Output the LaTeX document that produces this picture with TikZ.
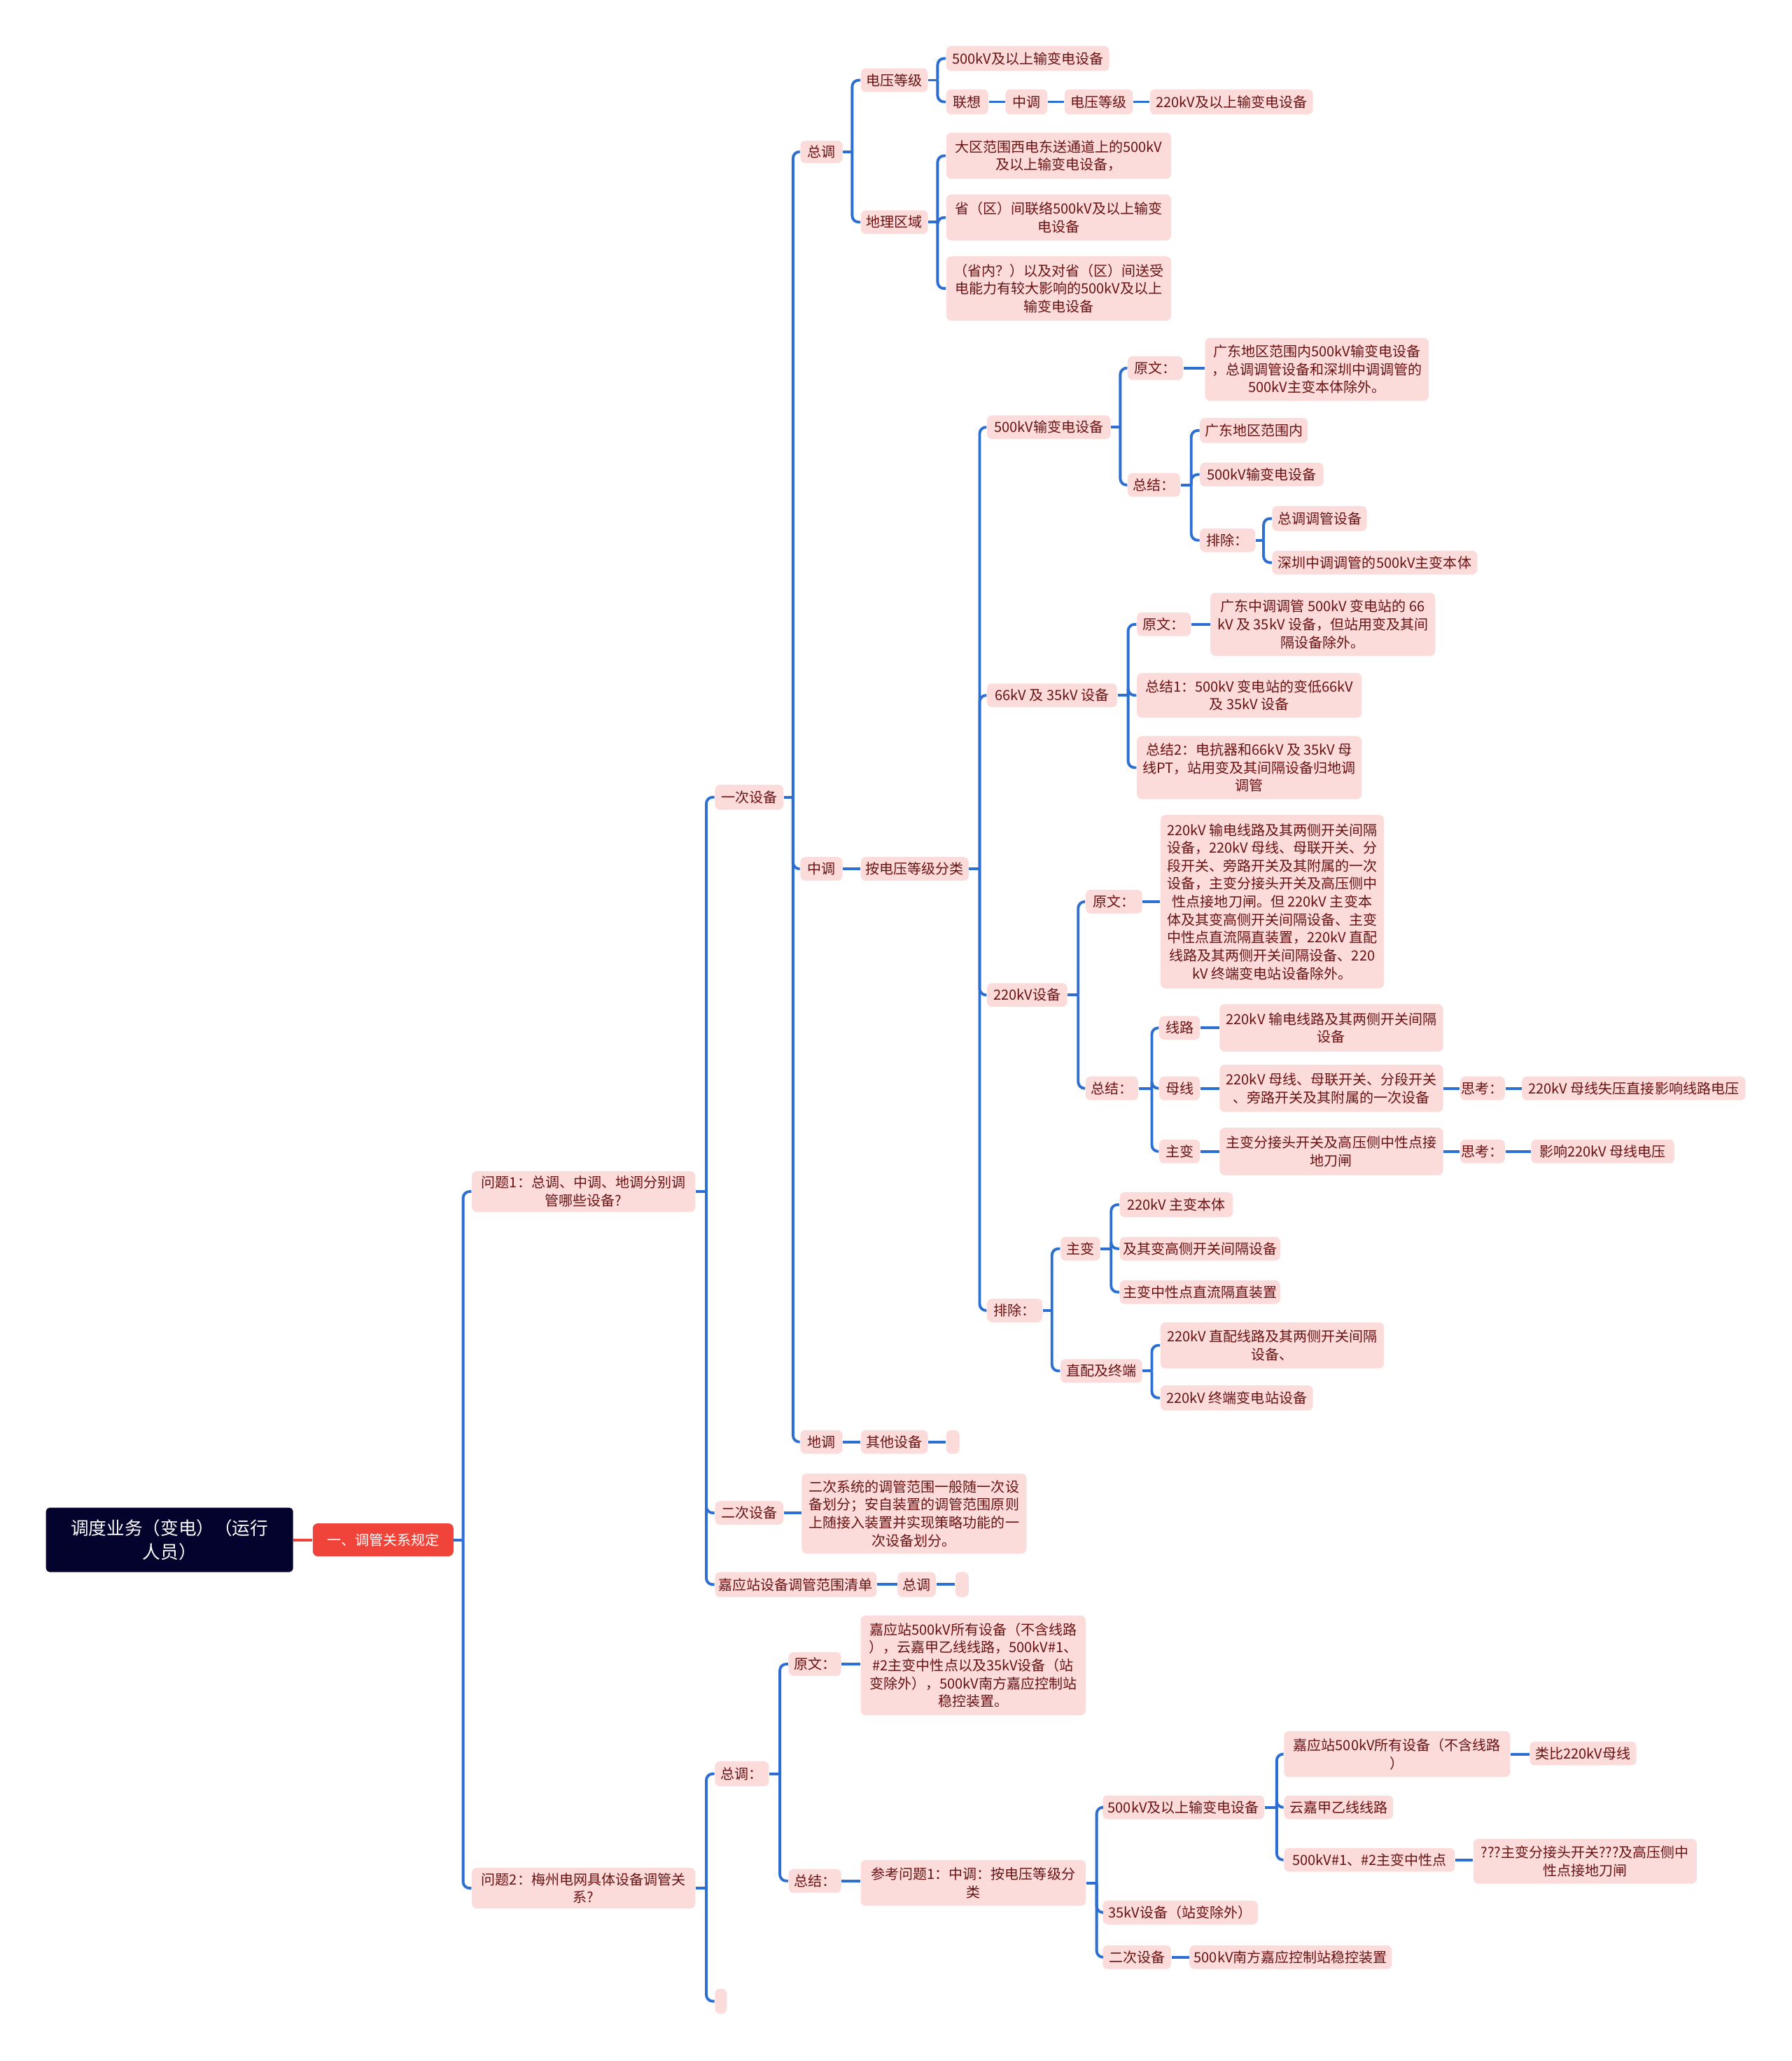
\documentclass[tikz,border=0pt]{standalone}
\usepackage{fontspec}
\setmainfont{Noto Sans CJK SC}
\definecolor{lnblue}{RGB}{44,110,210}
\definecolor{pk}{RGB}{252,219,219}
\definecolor{tx}{RGB}{105,18,18}
\definecolor{rootbg}{RGB}{4,3,46}
\definecolor{redbg}{RGB}{240,67,58}
\newcommand\bx[7][]{\pgfmathsetmacro\bw{(#5-#3)*0.018782}\pgfmathsetmacro\bh{(#6-#4)*0.018782}%
  \node[bx,#1,minimum width=\bw cm,minimum height=\bh cm] (#2) at ({(#3+#5)/2},{(#4+#6)/2}) {#7};}
\newcommand\lk[3]{\draw[ln] (#1.east) -- ++(#3,0); \draw[ln,rounded corners=2.6pt] (#1.east) ++(#3,0) |- (#2.west);}
\newcommand\st[2]{\draw[ln] (#1.east) -- (#1.east -| #2.west);}
\begin{document}
\begin{tikzpicture}[x=0.018782cm,y=-0.018782cm,
  bx/.style={fill=pk, rounded corners=2pt, inner sep=0pt, align=center, text=tx, font=\fontsize{5.7}{7.3}\selectfont},
  rootst/.style={fill=rootbg, text=white, font=\fontsize{7.3}{9.6}\selectfont, rounded corners=1.5pt},
  redst/.style={fill=redbg, text=white},
  ln/.style={draw=lnblue, line width=1.1pt}]
\path[use as bounding box, fill=white] (0,0) rectangle (1363,1568);

% boxes
\bx[rootst]{root}{35}{1147}{223}{1196}{调度业务（变电）（运行\\人员）}
\bx[redst]{l1}{238}{1159}{345}{1184}{一、调管关系规定}
\bx{q1}{359}{891}{529}{922}{问题1：总调、中调、地调分别调\\管哪些设备?}
\bx{q2}{359}{1421}{529}{1452}{问题2：梅州电网具体设备调管关\\系?}

\bx{yc}{544}{597}{596}{616}{一次设备}
\bx{ec}{544}{1142}{596}{1160}{二次设备}
\bx{ect}{610}{1121}{781}{1182}{二次系统的调管范围一般随一次设\\备划分；安自装置的调管范围原则\\上随接入装置并实现策略功能的一\\次设备划分。}
\bx{jy}{544}{1196}{667}{1215}{嘉应站设备调管范围清单}
\bx{jyzd}{683}{1196}{712}{1215}{总调}
\bx{jye}{727}{1196}{737}{1215}{}

\bx{zd}{609}{107}{641}{124}{总调}
\bx{zddy}{655}{52}{706}{70}{电压等级}
\bx{zd500}{720}{35}{844}{54}{500kV及以上输变电设备}
\bx{lx}{720}{68}{752}{87}{联想}
\bx{lxzt}{765}{68}{797}{87}{中调}
\bx{lxdy}{810}{68}{862}{87}{电压等级}
\bx{lx220}{875}{68}{999}{87}{220kV及以上输变电设备}
\bx{dl}{655}{160}{706}{178}{地理区域}
\bx{dla}{720}{101}{891}{136}{大区范围西电东送通道上的500kV\\及以上输变电设备，}
\bx{dlb}{720}{148}{891}{183}{省（区）间联络500kV及以上输变\\电设备}
\bx{dlc}{720}{195}{891}{244}{（省内？）以及对省（区）间送受\\电能力有较大影响的500kV及以上\\输变电设备}

\bx{zt}{609}{652}{641}{670}{中调}
\bx{fl}{655}{652}{737}{670}{按电压等级分类}

\bx{kf}{751}{316}{845}{334}{500kV输变电设备}
\bx{kfyw}{858}{271}{900}{289}{原文：}
\bx{kfywt}{917}{257}{1087}{305}{广东地区范围内500kV输变电设备\\，总调调管设备和深圳中调调管的\\500kV主变本体除外。}
\bx{kfzj}{858}{360}{898}{378}{总结：}
\bx{kfa}{913}{318}{995}{337}{广东地区范围内}
\bx{kfb}{913}{352}{1007}{370}{500kV输变电设备}
\bx{kfpc}{913}{402}{955}{420}{排除：}
\bx{kfpa}{968}{385}{1040}{404}{总调调管设备}
\bx{kfpb}{968}{419}{1124}{437}{深圳中调调管的500kV主变本体}

\bx{ks}{751}{520}{850}{538}{66kV 及 35kV 设备}
\bx{ksyw}{865}{466}{906}{484}{原文：}
\bx{ksywt}{921}{451}{1092}{499}{广东中调调管 500kV 变电站的 66\\kV 及 35kV 设备，但站用变及其间\\隔设备除外。}
\bx{ksza}{865}{512}{1036}{546}{总结1：500kV 变电站的变低66kV\\及 35kV 设备}
\bx{kszb}{865}{560}{1036}{608}{总结2：电抗器和66kV 及 35kV 母\\线PT，站用变及其间隔设备归地调\\调管}

\bx{kt}{751}{748}{812}{766}{220kV设备}
\bx{ktyw}{826}{677}{869}{695}{原文：}
\bx{ktywt}{883}{620}{1053}{752}{220kV 输电线路及其两侧开关间隔\\设备，220kV 母线、母联开关、分\\段开关、旁路开关及其附属的一次\\设备，主变分接头开关及高压侧中\\性点接地刀闸。但 220kV 主变本\\体及其变高侧开关间隔设备、主变\\中性点直流隔直装置，220kV 直配\\线路及其两侧开关间隔设备、220\\kV 终端变电站设备除外。}
\bx{ktzj}{826}{819}{866}{837}{总结：}
\bx{ktxl}{882}{773}{913}{791}{线路}
\bx{ktxlt}{928}{764}{1098}{800}{220kV 输电线路及其两侧开关间隔\\设备}
\bx{ktmx}{882}{819}{913}{837}{母线}
\bx{ktmxt}{928}{810}{1098}{846}{220kV 母线、母联开关、分段开关\\、旁路开关及其附属的一次设备}
\bx{ktmxs}{1111}{819}{1145}{837}{思考：}
\bx{ktmxst}{1158}{819}{1328}{837}{220kV 母线失压直接影响线路电压}
\bx{ktzb}{882}{867}{913}{885}{主变}
\bx{ktzbt}{928}{858}{1098}{894}{主变分接头开关及高压侧中性点接\\地刀闸}
\bx{ktzbs}{1111}{867}{1145}{885}{思考：}
\bx{ktzbst}{1165}{867}{1274}{885}{影响220kV 母线电压}

\bx{pc}{751}{988}{793}{1006}{排除：}
\bx{pczb}{807}{941}{837}{959}{主变}
\bx{pcza}{852}{907}{938}{926}{220kV 主变本体}
\bx{pczbb}{852}{941}{974}{959}{及其变高侧开关间隔设备}
\bx{pczc}{852}{974}{974}{992}{主变中性点直流隔直装置}
\bx{pczp}{807}{1034}{869}{1052}{直配及终端}
\bx{pczpa}{883}{1006}{1053}{1041}{220kV 直配线路及其两侧开关间隔\\设备、}
\bx{pczpb}{883}{1054}{999}{1073}{220kV 终端变电站设备}

\bx{dd}{609}{1088}{641}{1106}{地调}
\bx{ddqt}{655}{1088}{706}{1106}{其他设备}
\bx{dde}{720}{1088}{730}{1106}{}

\bx{qzd}{544}{1340}{585}{1359}{总调：}
\bx{qyw}{600}{1257}{640}{1275}{原文：}
\bx{qywt}{655}{1229}{826}{1305}{嘉应站500kV所有设备（不含线路\\），云嘉甲乙线线路，500kV\#1、\\\#2主变中性点以及35kV设备（站\\变除外），500kV南方嘉应控制站\\稳控装置。}
\bx{qzj}{600}{1422}{640}{1440}{总结：}
\bx{qzjt}{655}{1415}{826}{1450}{参考问题1：中调：按电压等级分\\类}
\bx{qf}{839}{1366}{962}{1384}{500kV及以上输变电设备}
\bx{qfa}{977}{1317}{1149}{1352}{嘉应站500kV所有设备（不含线路\\）}
\bx{qfab}{1164}{1325}{1245}{1343}{类比220kV母线}
\bx{qfb}{977}{1366}{1060}{1384}{云嘉甲乙线线路}
\bx{qfc}{977}{1406}{1107}{1424}{500kV\#1、\#2主变中性点}
\bx{qfct}{1121}{1399}{1291}{1433}{???主变分接头开关???及高压侧中\\性点接地刀闸}
\bx{qs}{839}{1446}{957}{1464}{35kV设备（站变除外）}
\bx{qe}{839}{1480}{891}{1498}{二次设备}
\bx{qet}{905}{1480}{1059}{1498}{500kV南方嘉应控制站稳控装置}
\bx{q2e}{544}{1513}{553}{1532}{}

% connectors
\draw[ln, draw=redbg] (root.east) -- (root.east -| l1.west);
\lk{l1}{q1}{7} \lk{l1}{q2}{7}
\lk{q1}{yc}{8} \lk{q1}{ec}{8} \lk{q1}{jy}{8}
\st{ec}{ect} \st{jy}{jyzd} \st{jyzd}{jye}
\lk{yc}{zd}{7} \lk{yc}{zt}{7} \lk{yc}{dd}{7}
\lk{zd}{zddy}{7} \lk{zd}{dl}{7}
\lk{zddy}{zd500}{7} \lk{zddy}{lx}{7}
\st{lx}{lxzt} \st{lxzt}{lxdy} \st{lxdy}{lx220}
\lk{dl}{dla}{7} \lk{dl}{dlb}{7} \lk{dl}{dlc}{7}
\st{zt}{fl}
\lk{fl}{kf}{8} \lk{fl}{ks}{8} \lk{fl}{kt}{8} \lk{fl}{pc}{8}
\lk{kf}{kfyw}{7} \lk{kf}{kfzj}{7} \st{kfyw}{kfywt}
\lk{kfzj}{kfa}{8} \lk{kfzj}{kfb}{8} \lk{kfzj}{kfpc}{8}
\lk{kfpc}{kfpa}{6} \lk{kfpc}{kfpb}{6}
\lk{ks}{ksyw}{8} \lk{ks}{ksza}{8} \lk{ks}{kszb}{8} \st{ksyw}{ksywt}
\lk{kt}{ktyw}{8} \lk{kt}{ktzj}{8} \st{ktyw}{ktywt}
\lk{ktzj}{ktxl}{10} \lk{ktzj}{ktmx}{10} \lk{ktzj}{ktzb}{10}
\st{ktxl}{ktxlt} \st{ktmx}{ktmxt} \st{ktmxt}{ktmxs} \st{ktmxs}{ktmxst}
\st{ktzb}{ktzbt} \st{ktzbt}{ktzbs} \st{ktzbs}{ktzbst}
\lk{pc}{pczb}{7} \lk{pc}{pczp}{7}
\lk{pczb}{pcza}{8} \lk{pczb}{pczbb}{8} \lk{pczb}{pczc}{8}
\lk{pczp}{pczpa}{7} \lk{pczp}{pczpb}{7}
\st{dd}{ddqt} \st{ddqt}{dde}
\lk{q2}{qzd}{8} \lk{q2}{q2e}{8}
\lk{qzd}{qyw}{8} \lk{qzd}{qzj}{8}
\st{qyw}{qywt} \st{qzj}{qzjt}
\lk{qzjt}{qf}{8} \lk{qzjt}{qs}{8} \lk{qzjt}{qe}{8}
\lk{qf}{qfa}{9} \lk{qf}{qfb}{9} \lk{qf}{qfc}{9}
\st{qfa}{qfab} \st{qfc}{qfct} \st{qe}{qet}
\end{tikzpicture}
\end{document}
